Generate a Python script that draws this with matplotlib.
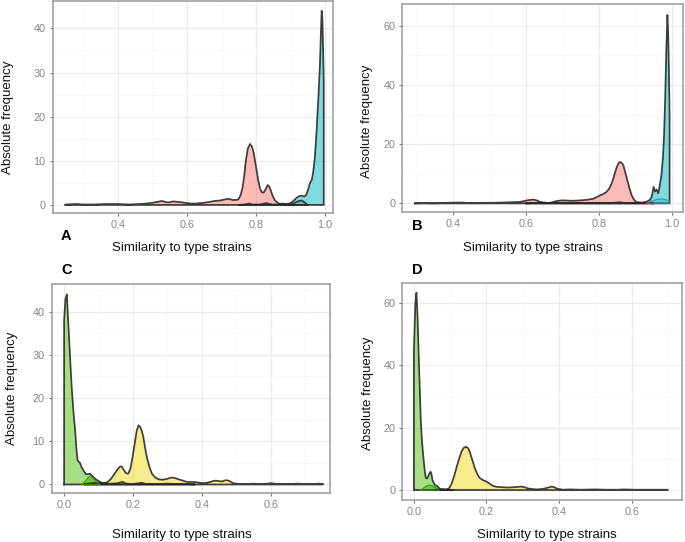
import matplotlib
matplotlib.use('Agg')
import matplotlib.pyplot as plt

plt.rcParams['font.family'] = ['Liberation Sans', 'DejaVu Sans']

# ---------------- data (x, density-count) ----------------
a_red = [(0.247,0.1),(0.28,0.2),(0.30,0.1),(0.33,0.1),(0.36,0.2),(0.40,0.2),(0.43,0.1),(0.46,0.2),
         (0.48,0.3),(0.50,0.5),(0.515,0.7),(0.526,0.9),(0.54,0.6),(0.55,0.6),(0.559,0.8),(0.57,0.7),
         (0.584,0.6),(0.60,0.4),(0.613,0.3),(0.625,0.3),(0.637,0.4),(0.65,0.5),(0.666,0.7),(0.68,0.9),
         (0.695,1.0),(0.707,1.2),(0.719,1.4),(0.733,1.1),(0.748,1.2),(0.755,2.2),(0.761,4.1),(0.766,7.0),
         (0.770,10.0),(0.776,12.8),(0.782,13.8),(0.788,13.2),(0.793,11.7),(0.80,8.5),(0.806,5.6),
         (0.811,3.8),(0.816,2.9),(0.822,2.8),(0.828,3.6),(0.833,4.5),(0.838,4.2),(0.842,3.4),(0.848,2.0),
         (0.854,1.1),(0.862,0.5),(0.869,0.2),(0.88,0.1),(0.89,0.1),(0.898,0.1),(0.908,0.3),(0.917,0.7),
         (0.925,0.9),(0.932,1.0),(0.94,0.6),(0.946,0.2),(0.95,0.0)]
a_teal = [(0.75,0.0),(0.765,0.1),(0.78,0.3),(0.79,0.1),(0.81,0.1),(0.83,0.4),(0.845,0.1),(0.86,0.1),
          (0.875,0.3),(0.89,0.2),(0.90,0.4),(0.908,0.9),(0.917,1.6),(0.925,2.0),(0.932,2.1),(0.94,1.9),
          (0.946,2.4),(0.951,3.6),(0.956,5.0),(0.961,5.6),(0.965,7.2),(0.97,10.5),(0.975,16.4),
          (0.98,23.5),(0.985,32.0),(0.988,39.5),(0.990,44.0),(0.992,42.5),(0.994,36.0),(0.996,28.0)]

b_red = [(0.295,0.0),(0.32,0.1),(0.35,0.0),(0.38,0.2),(0.42,0.3),(0.45,0.1),(0.48,0.2),(0.51,0.2),
         (0.537,0.3),(0.56,0.4),(0.583,0.5),(0.595,0.8),(0.606,1.1),(0.62,1.3),(0.63,1.0),(0.638,0.5),
         (0.65,0.3),(0.661,0.1),(0.672,0.4),(0.684,0.8),(0.695,1.0),(0.707,1.0),(0.72,0.9),(0.73,0.9),
         (0.745,1.0),(0.757,1.1),(0.772,1.3),(0.785,1.6),(0.795,2.2),(0.803,2.7),(0.812,3.2),(0.821,3.9),
         (0.828,5.0),(0.835,6.7),(0.842,9.5),(0.849,12.3),(0.854,13.6),(0.858,14.0),(0.862,13.7),
         (0.867,12.9),(0.872,10.6),(0.878,7.8),(0.884,5.0),(0.89,2.7),(0.896,1.3),(0.902,0.5),(0.91,0.3),
         (0.918,0.2),(0.93,0.1),(0.94,0.1),(0.95,0.0)]
b_teal = [(0.60,0.0),(0.63,0.2),(0.66,0.1),(0.70,0.1),(0.75,0.1),(0.80,0.2),(0.83,0.1),(0.858,0.4),
          (0.87,0.1),(0.89,0.1),(0.905,0.2),(0.92,0.3),(0.931,0.6),(0.94,1.2),(0.945,2.2),(0.95,5.6),
          (0.954,4.0),(0.958,4.7),(0.963,3.4),(0.967,6.0),(0.972,10.0),(0.976,16.0),(0.979,23.6),
          (0.982,36.0),(0.985,51.8),(0.988,63.6),(0.990,58.0),(0.992,46.0),(0.994,30.0)]
b_teal2 = [(0.93,0.0),(0.945,0.8),(0.96,1.4),(0.975,1.5),(0.99,1.0),(0.995,0.5)]

c_green = [(0.0,38.0),(0.004,43.0),(0.008,44.0),(0.012,37.6),(0.017,30.0),(0.022,22.6),(0.027,17.0),
           (0.032,12.6),(0.036,8.0),(0.039,5.6),(0.046,5.0),(0.051,4.0),(0.056,3.3),(0.063,2.4),
           (0.07,2.4),(0.075,2.5),(0.08,2.1),(0.085,1.7),(0.092,1.2),(0.10,0.8),(0.107,0.5),(0.114,0.3),
           (0.125,0.2),(0.14,0.2),(0.155,0.3),(0.17,0.6),(0.18,0.2),(0.20,0.1),(0.225,0.4),(0.24,0.1),
           (0.27,0.1),(0.30,0.2),(0.33,0.1),(0.36,0.1),(0.38,0.0)]
c_green2 = [(0.05,0.0),(0.06,0.6),(0.07,1.6),(0.077,2.0),(0.085,1.4),(0.095,0.5),(0.105,0.0)]
c_yellow = [(0.06,0.1),(0.08,0.3),(0.10,0.4),(0.115,0.3),(0.125,0.5),(0.135,1.2),(0.145,2.3),
            (0.155,3.5),(0.162,4.1),(0.167,4.2),(0.174,3.3),(0.18,2.6),(0.186,2.5),(0.192,3.5),
            (0.198,6.0),(0.205,9.5),(0.211,12.5),(0.216,13.7),(0.221,13.3),(0.226,12.3),(0.23,11.0),
            (0.235,8.6),(0.24,6.4),(0.248,4.0),(0.255,2.5),(0.265,1.6),(0.274,1.2),(0.285,1.1),
            (0.293,1.2),(0.303,1.4),(0.312,1.6),(0.322,1.5),(0.332,1.2),(0.345,0.9),(0.356,0.6),
            (0.37,0.6),(0.385,0.5),(0.395,0.4),(0.404,0.3),(0.415,0.4),(0.425,0.6),(0.433,0.8),
            (0.44,0.9),(0.448,0.8),(0.458,0.7),(0.465,0.9),(0.472,1.0),(0.48,0.8),(0.491,0.3),
            (0.50,0.2),(0.511,0.1),(0.53,0.1),(0.55,0.2),(0.57,0.1),(0.59,0.2),(0.60,0.3),(0.62,0.1),
            (0.65,0.1),(0.68,0.2),(0.70,0.1),(0.72,0.1),(0.74,0.2),(0.752,0.1)]

d_green = [(0.0,45.0),(0.004,60.0),(0.007,63.4),(0.010,56.0),(0.013,44.0),(0.016,33.0),(0.019,22.5),
           (0.022,16.0),(0.026,10.7),(0.03,6.0),(0.033,3.8),(0.036,3.7),(0.039,4.3),(0.043,5.4),
           (0.046,5.9),(0.049,4.8),(0.051,3.2),(0.055,2.2),(0.058,1.6),(0.064,1.3),(0.068,0.8),
           (0.072,0.3),(0.08,0.1),(0.09,0.1),(0.11,0.0)]
d_green2 = [(0.02,0.0),(0.03,1.0),(0.04,1.6),(0.05,1.4),(0.06,0.8),(0.07,0.0)]
d_yellow = [(0.06,0.1),(0.07,0.3),(0.08,0.3),(0.09,0.2),(0.097,0.6),(0.104,2.1),(0.111,4.5),
            (0.118,7.5),(0.125,10.2),(0.131,12.3),(0.137,13.5),(0.143,13.9),(0.149,13.5),(0.154,12.3),
            (0.16,10.0),(0.168,7.0),(0.175,5.0),(0.182,3.8),(0.19,3.2),(0.20,2.7),(0.208,2.1),
            (0.218,1.3),(0.23,1.0),(0.246,0.9),(0.26,0.8),(0.274,0.9),(0.285,1.0),(0.297,1.1),
            (0.305,0.9),(0.315,0.5),(0.328,0.3),(0.338,0.2),(0.35,0.3),(0.361,0.5),(0.37,0.8),
            (0.38,1.1),(0.387,0.9),(0.393,0.5),(0.41,0.1),(0.43,0.2),(0.46,0.1),(0.50,0.2),(0.53,0.1),
            (0.56,0.1),(0.58,0.2),(0.61,0.1),(0.65,0.1),(0.68,0.1),(0.70,0.1)]

x_ticks_ab = [0.4, 0.6, 0.8, 1.0]
x_ticklabels_ab = ['0.4', '0.6', '0.8', '1.0']
x_minor_ab = [0.3, 0.5, 0.7, 0.9]
x_ticks_cd = [0.0, 0.2, 0.4, 0.6]
x_ticklabels_cd = ['0.0', '0.2', '0.4', '0.6']
x_minor_cd = [0.1, 0.3, 0.5, 0.7]
y_ticks_ac = [0, 10, 20, 30, 40]
y_minor_ac = [5, 15, 25, 35, 45]
y_ticks_bd = [0, 20, 40, 60]
y_minor_bd = [10, 30, 50]

xlabel_text = 'Similarity to type strains'
ylabel_text = 'Absolute frequency'
panel_letters = ['A', 'B', 'C', 'D']

# ---------------- drawing ----------------
W, H = 685, 542
fig = plt.figure(figsize=(W / 100, H / 100), dpi=100)


def box(x0, y0, x1, y1):
    return [x0 / W, 1 - y1 / H, (x1 - x0) / W, (y1 - y0) / H]


def density(ax, pts, face, alpha=0.5, edge='#262626', lw=1.25, z=2):
    xs = [p[0] for p in pts]
    ys = [p[1] for p in pts]
    px = [xs[0]] + xs + [xs[-1], xs[0]]
    py = [0] + ys + [0, 0]
    ax.fill(px, py, facecolor=face, alpha=alpha, edgecolor='none', zorder=z)
    ax.plot(px, py, color=edge, lw=lw, zorder=z + 0.5, solid_joinstyle='round', alpha=0.88)


def style(ax, xlim, ylim, xt, xtl, xm, yt, ym):
    ax.set_xlim(*xlim)
    ax.set_ylim(*ylim)
    ax.set_xticks(xt)
    ax.set_xticklabels(xtl)
    ax.set_xticks(xm, minor=True)
    ax.set_yticks(yt)
    ax.set_yticklabels([str(v) for v in yt])
    ax.set_yticks(ym, minor=True)
    ax.grid(which='major', color='#EBEBEB', lw=0.9)
    ax.grid(which='minor', color='#F5F5F5', lw=0.5)
    ax.set_axisbelow(True)
    for s in ax.spines.values():
        s.set_color('#9a9a9a')
        s.set_linewidth(1.1)
    ax.tick_params(which='major', length=2.5, width=0.8, color='#777777',
                   labelsize=7.8, labelcolor='#858585', pad=2.5)
    ax.tick_params(which='minor', length=0)


axA = fig.add_axes(box(52.7, 1, 332.7, 213.3))
axB = fig.add_axes(box(402.3, 4, 682.7, 211.7))
axC = fig.add_axes(box(51.7, 284, 330, 492.7))
axD = fig.add_axes(box(402.3, 283.3, 681.7, 500))

pink, teal = '#F8766D', '#00B8BC'
green, yellow = '#6CC832', '#F2DE2E'

density(axA, a_red, pink)
density(axA, a_teal, teal)
style(axA, (0.21, 1.022), (-1.9, 46.2), x_ticks_ab, x_ticklabels_ab, x_minor_ab, y_ticks_ac, y_minor_ac)

density(axB, b_red, pink)
density(axB, b_teal, teal)
density(axB, b_teal2, teal, alpha=0.3, edge='#2a8f8f', lw=0.8)
style(axB, (0.26, 1.03), (-2.8, 67.3), x_ticks_ab, x_ticklabels_ab, x_minor_ab, y_ticks_bd, y_minor_bd)

density(axC, c_yellow, yellow, alpha=0.55)
density(axC, c_green, green, alpha=0.6)
density(axC, c_green2, '#3DBE10', alpha=0.6, edge='#3a8a1a', lw=0.8)
style(axC, (-0.036, 0.772), (-1.9, 46.4), x_ticks_cd, x_ticklabels_cd, x_minor_cd, y_ticks_ac, y_minor_ac)

density(axD, d_yellow, yellow, alpha=0.55)
density(axD, d_green, green, alpha=0.6)
density(axD, d_green2, '#3DBE10', alpha=0.6, edge='#3a8a1a', lw=0.8)
style(axD, (-0.032, 0.738), (-3.2, 66.4), x_ticks_cd, x_ticklabels_cd, x_minor_cd, y_ticks_bd, y_minor_bd)


def ftext(x, y, s, **kw):
    fig.text(x / W, 1 - y / H, s, ha='center', va='center', **kw)


fs = 9.5
ftext(182, 248, xlabel_text, fontsize=fs, color='#111111')
ftext(533, 248, xlabel_text, fontsize=fs, color='#111111')
ftext(182, 535, xlabel_text, fontsize=fs, color='#111111')
ftext(547, 535, xlabel_text, fontsize=fs, color='#111111')

ftext(8, 117, ylabel_text, fontsize=fs, rotation=90, color='#111111')
ftext(367, 121, ylabel_text, fontsize=fs, rotation=90, color='#111111')
ftext(12, 388, ylabel_text, fontsize=fs, rotation=90, color='#111111')
ftext(368, 393, ylabel_text, fontsize=fs, rotation=90, color='#111111')

letter_pos = [(66, 236), (417, 226), (67, 270), (417, 270)]
for (lx, ly), lt in zip(letter_pos, panel_letters):
    ftext(lx, ly, lt, fontsize=10.5, fontweight='bold', color='#000000')

fig.savefig('out.png', dpi=100)
